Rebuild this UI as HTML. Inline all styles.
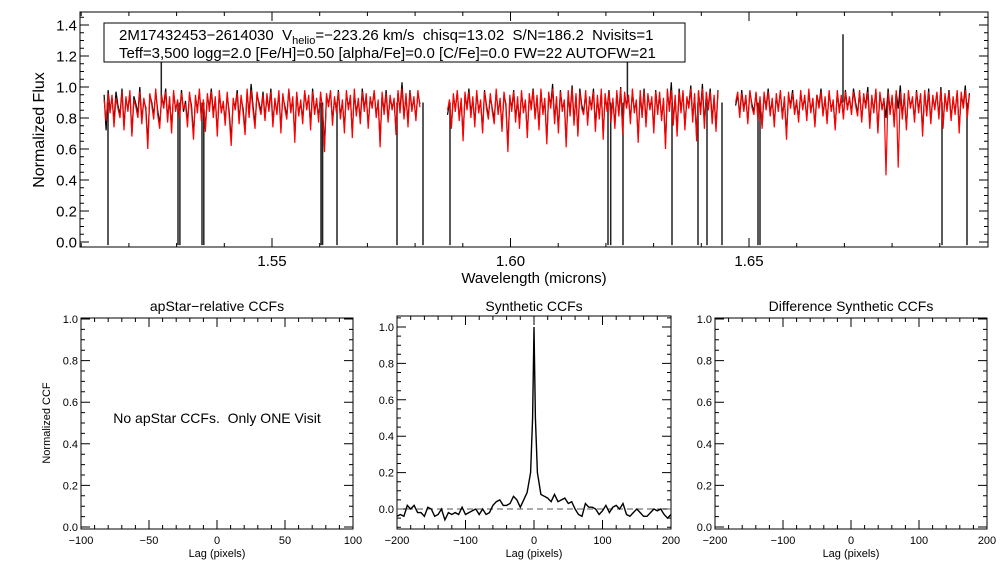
<!DOCTYPE html>
<html><head><meta charset="utf-8">
<style>
body{margin:0;background:#fff;}
svg{display:block;font-family:"Liberation Sans",sans-serif;}
text{white-space:pre;}
</style></head>
<body>
<svg id="c" width="1008" height="576" viewBox="0 0 1008 576"></svg>
<script>
// ---------- data ----------
const chipRanges=[[1.5148,1.5810],[1.5868,1.6435],[1.6472,1.6962]];
const fluxObs1=[0.95,0.72,0.98,0.85,0.93,0.78,0.97,0.88,0.82,0.99,0.75,0.92,0.86,0.96,0.70,0.94,0.89,0.83,1.00,0.79,0.91,0.87,0.64,0.95,0.90,0.81,0.97,0.85,0.76,0.93,0.88,0.99,0.80,0.92,0.73,0.96,0.86,0.90,0.82,0.98,0.84,0.91,0.77,0.95,0.88,0.69,0.93,0.86,0.97,0.80,0.90,0.74,0.94,0.87,0.99,0.83,0.92,0.71,0.96,0.85,0.89,0.78,0.95,0.84,0.66,0.91,0.87,0.98,0.79,0.93,0.86,0.72,0.97,0.82,1.02,0.88,0.76,0.95,0.90,0.84,
0.97,0.80,0.93,0.86,0.99,0.77,0.91,0.84,0.96,0.73,0.94,0.88,0.81,0.98,0.85,0.92,0.68,0.96,0.83,0.90,0.79,0.97,0.87,0.93,0.75,0.99,0.84,0.91,0.80,0.95,0.86,0.62,0.94,0.89,0.97,0.78,0.92,0.85,0.98,0.81,0.90,0.74,0.96,0.87,0.93,0.70,0.97,0.83,0.91,0.79,0.99,0.86,0.94,0.76,0.92,0.88,0.97,0.82,0.90,0.65,0.95,0.84,0.98,0.79,0.93,0.87,0.91,0.72,0.96,0.85,1.03,0.81,0.94,0.77,0.98,0.86,0.92,0.80,0.96,0.89];
const fluxSyn1=[0.92,0.78,0.96,0.83,0.95,0.74,0.93,0.86,0.80,0.97,0.72,0.94,0.84,0.98,0.68,0.92,0.87,0.80,0.97,0.76,0.93,0.85,0.60,0.96,0.88,0.79,0.99,0.82,0.73,0.95,0.86,0.97,0.77,0.94,0.70,0.98,0.84,0.92,0.80,0.96,0.86,0.89,0.74,0.97,0.85,0.66,0.95,0.83,0.99,0.78,0.92,0.71,0.96,0.84,0.97,0.80,0.94,0.68,0.98,0.83,0.91,0.75,0.97,0.81,0.62,0.93,0.85,0.96,0.76,0.95,0.83,0.69,0.99,0.80,0.98,0.85,0.73,0.97,0.88,0.82,
0.95,0.78,0.96,0.84,0.97,0.74,0.93,0.82,0.98,0.70,0.96,0.86,0.79,0.99,0.83,0.94,0.64,0.97,0.81,0.92,0.76,0.98,0.85,0.95,0.72,0.97,0.82,0.93,0.77,0.97,0.84,0.58,0.96,0.87,0.98,0.75,0.94,0.83,0.97,0.79,0.92,0.70,0.98,0.85,0.95,0.67,0.99,0.81,0.93,0.76,0.97,0.84,0.96,0.73,0.94,0.86,0.98,0.80,0.92,0.61,0.97,0.82,0.96,0.77,0.95,0.85,0.93,0.69,0.98,0.83,0.99,0.79,0.96,0.74,0.97,0.84,0.94,0.78,0.98,0.87];
const fluxObs2=[0.82,0.90,0.75,0.94,0.86,0.97,0.80,0.91,0.68,0.95,0.87,0.99,0.83,0.92,0.77,0.96,0.85,0.90,0.72,0.98,0.88,0.81,0.94,0.86,0.79,0.97,0.84,0.91,0.74,0.95,0.89,0.62,0.93,0.86,0.98,0.80,0.92,0.76,0.96,0.85,0.90,0.70,0.94,0.87,0.99,0.81,0.93,0.75,0.97,0.84,0.91,0.66,0.95,0.88,1.02,0.79,0.92,0.73,0.98,0.86,0.90,0.64,0.96,0.83,1.01,0.78,0.94,0.70,0.99,0.88,
0.84,0.96,0.78,0.92,0.87,0.99,0.74,0.93,0.81,0.97,0.69,0.94,0.86,0.98,0.80,0.91,0.76,0.96,0.83,1.00,0.72,0.95,0.88,0.93,0.79,0.97,0.85,0.90,0.67,0.96,0.82,0.99,0.77,0.94,0.87,0.92,0.73,0.98,0.84,0.95,0.80,0.91,0.63,0.97,0.86,1.03,0.78,0.93,0.71,0.99,0.85,0.96,0.75,0.92,0.88,1.01,0.80,0.94,0.68,0.97,0.84,1.02,0.76,0.95,0.87,0.99,0.79,0.93,0.74,0.98];
const fluxSyn2=[0.85,0.92,0.73,0.96,0.84,0.98,0.78,0.93,0.65,0.97,0.85,0.97,0.80,0.94,0.74,0.98,0.83,0.92,0.70,0.97,0.86,0.79,0.96,0.84,0.76,0.99,0.82,0.93,0.71,0.97,0.87,0.58,0.95,0.84,0.97,0.77,0.94,0.73,0.98,0.83,0.92,0.67,0.96,0.85,0.98,0.79,0.95,0.72,0.99,0.82,0.93,0.63,0.97,0.86,0.99,0.76,0.94,0.70,0.97,0.84,0.92,0.61,0.98,0.81,0.99,0.75,0.96,0.68,0.97,0.86,
0.82,0.98,0.75,0.94,0.85,0.97,0.71,0.95,0.79,0.99,0.66,0.96,0.84,0.97,0.77,0.93,0.73,0.98,0.81,0.99,0.69,0.97,0.86,0.95,0.76,0.99,0.83,0.92,0.64,0.98,0.80,0.97,0.74,0.96,0.85,0.94,0.70,0.97,0.82,0.97,0.78,0.93,0.60,0.99,0.84,0.98,0.75,0.95,0.68,0.97,0.83,0.98,0.72,0.94,0.86,0.99,0.77,0.96,0.65,0.98,0.82,0.99,0.73,0.97,0.85,0.97,0.76,0.95,0.71,0.97];
const fluxObs3=[0.88,0.95,0.82,0.98,0.86,0.93,0.78,0.97,0.89,0.84,0.96,0.80,0.92,0.75,0.95,0.87,0.99,0.83,0.91,0.77,0.94,0.86,0.97,0.81,0.92,0.69,0.95,0.88,0.98,0.84,0.90,0.79,0.96,0.87,0.93,0.80,0.97,0.85,0.91,0.76,0.95,0.88,0.99,0.83,0.92,0.78,0.96,0.86,0.90,0.74,0.97,0.85,0.93,0.81,0.98,0.87,0.92,0.84,0.99,0.90,
0.83,0.97,0.79,0.94,0.88,1.00,0.76,0.93,0.85,0.98,0.72,0.95,0.87,0.91,0.80,0.99,0.84,0.93,0.77,0.97,0.86,1.01,0.81,0.94,0.74,0.96,0.88,0.92,0.79,0.98,0.85,0.95,0.71,0.97,0.83,0.99,0.78,0.93,0.87,0.96,0.81,1.00,0.75,0.94,0.86,0.98,0.80,0.92,0.84,0.97,0.73,0.95,0.88,1.01,0.82,0.96];
const fluxSyn3=[0.90,0.97,0.80,0.96,0.84,0.95,0.76,0.98,0.87,0.82,0.97,0.78,0.94,0.73,0.97,0.85,0.97,0.81,0.93,0.74,0.96,0.84,0.98,0.79,0.94,0.66,0.97,0.86,0.96,0.82,0.92,0.77,0.98,0.85,0.95,0.78,0.99,0.83,0.93,0.74,0.95,0.86,0.97,0.81,0.94,0.76,0.98,0.84,0.92,0.72,0.98,0.83,0.95,0.79,0.97,0.85,0.94,0.82,0.97,0.88,
0.81,0.98,0.77,0.96,0.86,0.97,0.73,0.95,0.83,0.99,0.70,0.97,0.85,0.93,0.43,0.97,0.82,0.95,0.74,0.98,0.48,0.97,0.79,0.96,0.72,0.98,0.86,0.94,0.77,0.97,0.83,0.96,0.68,0.98,0.81,0.97,0.76,0.95,0.85,0.97,0.79,0.98,0.73,0.96,0.84,0.97,0.78,0.94,0.82,0.98,0.70,0.97,0.86,0.98,0.80,0.95];
const badPixWave=[1.51562,1.53029,1.53070,1.53532,1.53570,1.56027,1.56060,1.56363,1.57621,1.58166,1.58732,1.62044,1.62100,1.62358,1.63386,1.63931,1.6412,1.64434,1.65189,1.65230,1.69046,1.6957];
const spikeWave=[1.5268,1.6245,1.6697];
const spikeFlux=[1.20,1.20,1.34];
const ccfLag=[-200,-195,-190,-185,-180,-175,-170,-165,-160,-155,-150,-145,-140,-135,-130,-125,-120,-115,-110,-105,-100,-95,-90,-85,-80,-75,-70,-65,-60,-55,-50,-45,-40,-35,-30,-25,-20,-15,-10,-5,-2,0,2,5,10,15,20,25,30,35,40,45,50,55,60,65,70,75,80,85,90,95,100,105,110,115,120,125,130,135,140,145,150,155,160,165,170,175,180,185,190,195,200];
const ccfVal=[-0.04,-0.03,-0.04,0.02,0.0,0.02,-0.02,-0.02,-0.04,0.01,0.0,-0.04,-0.03,0.0,-0.06,-0.02,-0.03,-0.02,-0.03,0.01,-0.03,-0.02,-0.01,0.0,-0.03,0.0,-0.03,-0.02,0.02,0.04,0.05,0.02,0.02,0.03,0.07,0.05,0.01,0.05,0.09,0.2,0.5,1.0,0.5,0.2,0.08,0.07,0.06,0.04,0.08,0.04,0.05,0.06,0.03,0.04,0.0,-0.03,-0.04,0.03,0.01,0.01,0.0,-0.03,-0.01,0.02,-0.02,0.01,0.02,0.0,0.03,-0.03,-0.04,-0.02,0.0,-0.02,-0.04,-0.04,-0.02,0.0,-0.01,0.0,-0.03,-0.05,-0.03];

// ---------- helpers ----------
const NS="http://www.w3.org/2000/svg";
const svg=document.getElementById('c');
function mk(tag,attrs,parent){const e=document.createElementNS(NS,tag);for(const k in attrs)e.setAttribute(k,attrs[k]);(parent||svg).appendChild(e);return e;}
function txt(x,y,s,size,anchor,parent){const t=mk('text',{x:x,y:y,'font-size':size,'text-anchor':anchor||'middle',fill:'#000'},parent);t.textContent=s;return t;}
function scale(d0,d1,r0,r1){return v=>r0+(v-d0)*(r1-r0)/(d1-d0);}

function axes(g,L,R,T,B,xs,ys,xMaj,xMin,yMaj,yMin,xr,yr,fs,xfmt,yfmt){
  mk('rect',{x:L,y:T,width:R-L,height:B-T,fill:'none',stroke:'#000','stroke-width':1},g);
  let p='';
  for(let v=Math.ceil(xr[0]/xMin-1e-6)*xMin;v<=xr[1]+1e-9;v+=xMin){
    const X=xs(v).toFixed(1);const maj=Math.abs(v/xMaj-Math.round(v/xMaj))<1e-6;const len=maj?9:4;
    p+=`M${X},${B}v${-len}M${X},${T}v${len}`;
    if(maj){const t=txt(X,B+15+(fs-11),xfmt(v),fs,'middle',g);}
  }
  for(let v=Math.ceil(yr[0]/yMin-1e-6)*yMin;v<=yr[1]+1e-9;v+=yMin){
    const Y=ys(v).toFixed(1);const maj=Math.abs(v/yMaj-Math.round(v/yMaj))<1e-6;const len=maj?9:4;
    p+=`M${L},${Y}h${len}M${R},${Y}h${-len}`;
    if(maj){const t=txt(L-3,+Y+fs*0.36,yfmt(v),fs,'end',g);}
  }
  const tk=mk('path',{d:p,stroke:'#000','stroke-width':1,fill:'none'},g);
  
  
}

// ---------- top spectrum panel ----------
const gTop=mk('g',{});


const tL=80,tR=988,tT=12,tB=247;
const wx=scale(1.55,1.65,272,749);
const fy=scale(0,1.4,242,25);
function chipLine(w0,w1,vals,color,name,sw){
  const n=vals.length;let pts=[];
  vals.forEach((v,i)=>{pts.push(wx(w0+(w1-w0)*i/(n-1)).toFixed(1)+','+fy(v).toFixed(1));});
  const pl=mk('polyline',{points:pts.join(' '),fill:'none',stroke:color,'stroke-width':sw,'stroke-linejoin':'bevel'},gTop);
  
  
}
const obs=[fluxObs1,fluxObs2,fluxObs3],syn=[fluxSyn1,fluxSyn2,fluxSyn3];
chipRanges.forEach((r,i)=>chipLine(r[0],r[1],obs[i],'#000','observed-spectrum-chip'+(i+1),1.2));
let bp='';
badPixWave.forEach(w=>{const X=wx(w).toFixed(1);bp+=`M${X},${fy(0.9)}V${fy(-0.02)}`;});
spikeWave.forEach((w,i)=>{const X=wx(w).toFixed(1);bp+=`M${X},${fy(0.9)}V${fy(spikeFlux[i])}`;});
const bpl=mk('path',{d:bp,stroke:'#222','stroke-width':1.5,fill:'none'},gTop);


chipRanges.forEach((r,i)=>chipLine(r[0],r[1],syn[i],'#f00','synthetic-spectrum-chip'+(i+1),1.2));
axes(gTop,tL,tR,tT,tB,wx,fy,0.05,0.01,0.2,0.05,[1.5097,1.6995],[-0.03,1.48],15,v=>v.toFixed(2),v=>v.toFixed(1));
const xt=txt(534,283,'Wavelength (microns)',15,'middle',gTop);


const yt=txt(0,0,'Normalized Flux',16,'middle',gTop);
yt.setAttribute('transform','translate(44,130) rotate(-90)');


// legend box
const lg=mk('g',{},gTop);


mk('rect',{x:104,y:23,width:581,height:39,fill:'#fff',stroke:'#000','stroke-width':1},lg);
const l1=mk('text',{x:119,y:40,'font-size':15,fill:'#000'},lg);
l1.innerHTML='2M17432453−2614030  V<tspan font-size="11" dy="4">helio</tspan><tspan dy="-4">=−223.26 km/s  chisq=13.02  S/N=186.2  Nvisits=1</tspan>';
txt(119,58,'Teff=3,500 logg=2.0 [Fe/H]=0.50 [alpha/Fe]=0.0 [C/Fe]=0.0 FW=22 AUTOFW=21',15,'start',lg);

// ---------- bottom panels ----------
function panel(name,L,R,T,B,xr,y0px,y1px,xMaj,xMin,title){
  const g=mk('g',{});
  
  
  const xs=scale(xr[0],xr[1],L,R);const ys=scale(0,1,y0px,y1px);
  const yb=(B-y0px)/(y1px-y0px),ytp=(T-y0px)/(y1px-y0px);
  axes(g,L,R,T,B,xs,ys,xMaj,xMin,0.2,0.05,xr,[yb,ytp],11,v=>String(Math.round(v)).replace('-','−'),v=>v.toFixed(1));
  const tt=txt((L+R)/2,311,title,14,'middle',g);
  
  
  const xl=txt((L+R)/2,557,'Lag (pixels)',11,'middle',g);
  
  
  return {g,xs,ys};
}
const p1=panel('apstar-ccf-panel',81,353,318,529,[-100,100],527,319,50,10,'apStar−relative CCFs');
const yl=txt(0,0,'Normalized CCF',11,'middle',p1.g);
yl.setAttribute('transform','translate(50,423) rotate(-90)');


const nm=txt(217,423,'No apStar CCFs.  Only ONE Visit',14,'middle',p1.g);



const p2=panel('synthetic-ccf-panel',397,671,316,529,[-200,200],509,327,100,20,'Synthetic CCFs');
const zl=mk('line',{x1:397,x2:671,y1:p2.ys(0),y2:p2.ys(0),stroke:'#555','stroke-width':1,'stroke-dasharray':'6,4'},p2.g);


const cp=mk('polyline',{points:ccfLag.map((l,i)=>p2.xs(l).toFixed(1)+','+p2.ys(ccfVal[i]).toFixed(1)).join(' '),fill:'none',stroke:'#000','stroke-width':1.4},p2.g);



const p3=panel('difference-ccf-panel',715,987,318,529,[-200,200],527,319,100,20,'Difference Synthetic CCFs');
</script>
</body></html>
